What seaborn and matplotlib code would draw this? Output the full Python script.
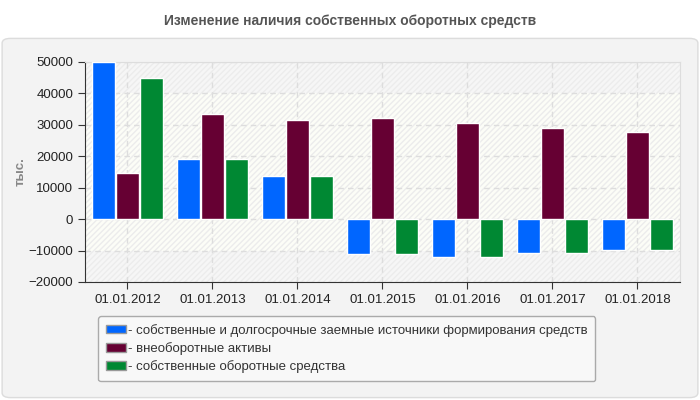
import pandas as pd
import numpy as np
import matplotlib
matplotlib.use('Agg')
import matplotlib.pyplot as plt
from matplotlib.patches import FancyBboxPatch, Rectangle, Patch
import seaborn as sns

# Data
dates = ['01.01.2012', '01.01.2013', '01.01.2014', '01.01.2015',
         '01.01.2016', '01.01.2017', '01.01.2018']
series_names = ['собственные и долгосрочные заемные источники формирования средств',
                'внеоборотные активы',
                'собственные оборотные средства']
own_and_long = [50000, 19250, 13850, -11200, -12150, -10900, -9950]
non_current = [14800, 33500, 31600, 32250, 30650, 29050, 27800]
working_cap = [44900, 19250, 13850, -11200, -12150, -10900, -9950]
colors = ['#0066ff', '#660033', '#008833']

data = pd.DataFrame({
    'date': dates * 3,
    'series': [series_names[0]] * 7 + [series_names[1]] * 7 + [series_names[2]] * 7,
    'value': own_and_long + non_current + working_cap,
})

sns.set_style('white')
plt.rcParams['font.family'] = ['Liberation Sans', 'DejaVu Sans']

fig = plt.figure(figsize=(7, 4), dpi=100)
fig.patch.set_facecolor('white')

# gray panel behind the chart
panel = FancyBboxPatch((0.003, 0.006), 0.994, 0.898,
                       boxstyle='round,pad=0,rounding_size=0.012',
                       transform=fig.transFigure, facecolor='#f3f3f3',
                       edgecolor='#dcdcdc', linewidth=1, zorder=-5)
fig.patches.append(panel)

fig.text(0.5, 0.948, 'Изменение наличия собственных оборотных средств',
         ha='center', va='center', fontsize=10, fontweight='bold', color='#555555')

ax = fig.add_axes([0.1214, 0.295, 0.85, 0.55])
ax.set_facecolor('#fcfdf7')

# background bands and hatching
ax.axhspan(40000, 50000, color='#f6f6f6', zorder=0, linewidth=0)
ax.axhspan(-20000, -10000, color='#f6f6f6', zorder=0, linewidth=0)
ax.add_patch(Rectangle((0, 0), 1, 1, transform=ax.transAxes, facecolor='none',
                       edgecolor='#ececec', hatch='//////', linewidth=0, zorder=0.5))

sns.barplot(data=data, x='date', y='value', hue='series', palette=colors,
            width=0.85, gap=0.04, saturation=1, ax=ax, legend=False, zorder=3)

ax.set_ylim(-20000, 50000)
ax.set_xlim(-0.5, 6.5)
ax.set_yticks(np.arange(-20000, 50001, 10000))
ax.set_xlabel('')
ax.set_ylabel('тыс.', color='#888888', fontsize=9.5, fontweight='bold', labelpad=1)

ax.grid(True, color='#dddddd', linestyle=(0, (4, 3)), linewidth=1)
ax.set_axisbelow(True)
for side in ['top', 'right']:
    ax.spines[side].set_color('#dddddd')
for side in ['left', 'bottom']:
    ax.spines[side].set_color('#333333')
ax.tick_params(axis='both', direction='out', length=5, color='#333333',
               labelsize=9.5, labelcolor='#222222', left=True, bottom=True)

handles = [Patch(facecolor=c, edgecolor='#999999', label='- ' + n)
           for c, n in zip(colors, series_names)]
leg = fig.legend(handles=handles, loc='upper left', bbox_to_anchor=(0.14, 0.21),
                 borderaxespad=0, fontsize=9.5, frameon=True, handlelength=1.5,
                 handleheight=0.6, handletextpad=0.15, labelspacing=0.4, borderpad=0.6,
                 edgecolor='#aaaaaa', facecolor='#f8f8f8', framealpha=1)
for t in leg.get_texts():
    t.set_color('#333333')

fig.savefig('out.png', dpi=100, facecolor=fig.get_facecolor())
